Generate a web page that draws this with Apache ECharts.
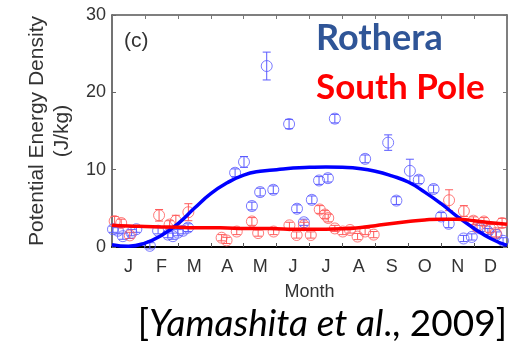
<!DOCTYPE html>
<html>
<head>
<meta charset="utf-8">
<script src="https://cdn.jsdelivr.net/npm/echarts@6/dist/echarts.min.js"></script>
<style>
  html, body { margin: 0; padding: 0; background: #fff; }
  #chart { width: 526px; height: 346px; }
</style>
</head>
<body>
<div id="chart"></div>
<script>
// Month labels (categories) and y tick range
const months = ['J', 'F', 'M', 'A', 'M', 'J', 'J', 'A', 'S', 'O', 'N', 'D'];
const yTicks = [0, 10, 20, 30];

// Seasonal fit curves, sampled every half month (month units, 0 = 1 Jan)
const fitMonth = [0, 0.5, 1, 1.5, 2, 2.5, 3, 3.5, 4, 4.5, 5, 5.5, 6, 6.5, 7, 7.5, 8, 8.5, 9, 9.5, 10, 10.5, 11, 11.5, 12];
const rotheraFit = [0.3, 0.1, 0.5, 1.5, 3.0, 5.0, 6.9, 8.3, 9.3, 9.8, 10.0, 10.2, 10.3, 10.35, 10.3, 10.15, 9.8, 9.2, 8.4, 7.1, 5.6, 3.9, 2.4, 1.1, 0.2];
const southPoleFit = [2.8, 2.7, 2.65, 2.6, 2.55, 2.5, 2.5, 2.45, 2.4, 2.4, 2.35, 2.3, 2.3, 2.3, 2.35, 2.5, 2.75, 3.05, 3.3, 3.5, 3.6, 3.6, 3.4, 3.15, 2.95];

// Rothera observations: time (months), potential energy density (J/kg), error
const rotheraMonth = [0.03, 0.18, 0.33, 0.59, 0.74, 1.15, 1.40, 1.70, 1.85, 2.00, 2.16, 2.31, 3.74, 4.01, 4.25, 4.50, 4.70, 4.90, 5.38, 5.62, 5.83, 6.07, 6.29, 6.56, 6.77, 7.69, 8.39, 8.64, 9.05, 9.32, 9.77, 10.00, 10.23, 10.68, 10.93, 11.18, 11.42, 11.68, 11.88];
const rotheraPED = [2.3, 2.1, 1.4, 1.85, 2.3, 0.15, 2.1, 1.6, 1.4, 1.85, 2.1, 2.5, 9.6, 11.0, 5.3, 7.1, 23.4, 7.4, 15.9, 4.95, 3.2, 6.1, 8.6, 8.9, 16.6, 11.4, 13.5, 6.0, 9.85, 8.7, 7.5, 3.95, 3.0, 1.1, 1.3, 2.4, 2.0, 1.55, 0.8];
const rotheraErr = [0.4, 0.4, 0.4, 0.4, 0.4, 0.4, 0.4, 0.4, 0.4, 0.4, 0.4, 0.5, 0.5, 0.7, 0.5, 0.5, 1.8, 0.5, 0.6, 0.5, 0.4, 0.5, 0.5, 0.5, 0.55, 0.5, 1.0, 0.5, 1.5, 0.5, 0.5, 0.5, 0.5, 0.4, 0.4, 0.4, 0.4, 0.4, 0.4];

// South Pole observations
const southPoleMonth = [0.08, 0.28, 0.54, 1.43, 1.75, 1.94, 2.32, 3.33, 3.48, 3.79, 4.25, 4.44, 4.91, 5.39, 5.61, 5.83, 6.04, 6.31, 6.47, 6.57, 6.77, 7.01, 7.23, 7.46, 7.69, 7.95, 10.24, 10.69, 10.98, 11.09, 11.30, 11.48, 11.66, 11.85];
const southPolePED = [3.35, 3.1, 1.5, 4.1, 2.9, 3.4, 4.5, 1.2, 0.85, 2.0, 3.3, 1.8, 2.0, 2.8, 1.55, 2.8, 1.55, 4.85, 4.2, 3.75, 2.4, 2.0, 2.2, 1.35, 2.0, 1.6, 6.05, 4.65, 3.4, 2.6, 3.3, 2.4, 1.8, 3.1];
const southPoleErr = [0.6, 0.5, 0.4, 0.75, 0.5, 0.7, 1.1, 0.4, 0.4, 0.4, 0.5, 0.4, 0.4, 0.4, 0.4, 0.4, 0.4, 0.5, 0.5, 0.5, 0.4, 0.4, 0.4, 0.4, 0.4, 0.4, 1.35, 0.7, 0.5, 0.5, 0.5, 0.5, 0.5, 0.6];

const BLUE_PT = '#5a5aff';
const RED_PT = '#ff5a5a';

function zip(xs, ys, es) {
  return xs.map((x, i) => es ? [x, ys[i], es[i]] : [x, ys[i]]);
}

// Vertical error bar with short caps, positioned through the axes
function errorBar(color) {
  return function (params, api) {
    const x = api.value(0), y = api.value(1), e = api.value(2);
    const top = api.coord([x, y + e]);
    const bot = api.coord([x, y - e]);
    const w = 4;
    const style = { stroke: color, lineWidth: 1, fill: null };
    return {
      type: 'group',
      children: [
        { type: 'line', shape: { x1: top[0], y1: top[1], x2: bot[0], y2: bot[1] }, style },
        { type: 'line', shape: { x1: top[0] - w, y1: top[1], x2: top[0] + w, y2: top[1] }, style },
        { type: 'line', shape: { x1: bot[0] - w, y1: bot[1], x2: bot[0] + w, y2: bot[1] }, style }
      ]
    };
  };
}

const chart = echarts.init(document.getElementById('chart'), null, { renderer: 'canvas' });

const fontFamily = '"Liberation Sans", Arial, sans-serif';

chart.setOption({
  animation: false,
  backgroundColor: '#fff',
  grid: { left: 112, right: 19, top: 15, bottom: 99, containLabel: false },
  xAxis: [
    {
      type: 'value', min: 0, max: 12, interval: 1, position: 'bottom',
      axisLine: { show: true, onZero: false, lineStyle: { color: '#000', width: 2 } },
      axisTick: { show: true, inside: true, length: 4, lineStyle: { color: '#555' } },
      axisLabel: { show: false }, splitLine: { show: false }
    },
    {
      type: 'category', data: months, boundaryGap: true, position: 'bottom',
      axisLine: { show: false }, axisTick: { show: false },
      axisLabel: { fontSize: 18, color: '#333', margin: 11, fontFamily },
      name: 'Month', nameLocation: 'middle', nameGap: 36,
      nameTextStyle: { fontSize: 18, color: '#333', fontFamily }
    },
    {
      type: 'value', min: 0, max: 12, interval: 1, position: 'top',
      axisLine: { show: true, onZero: false, lineStyle: { color: '#555', width: 1.5 } },
      axisTick: { show: true, inside: true, length: 4, lineStyle: { color: '#777' } },
      axisLabel: { show: false }, splitLine: { show: false }
    }
  ],
  yAxis: [
    {
      type: 'value', min: yTicks[0], max: yTicks[yTicks.length - 1], interval: 10, position: 'left',
      axisLine: { show: true, onZero: false, lineStyle: { color: '#444', width: 1.5 } },
      axisTick: { show: true, inside: true, length: 4, lineStyle: { color: '#666' } },
      axisLabel: { fontSize: 18, color: '#333', margin: 6, fontFamily },
      splitLine: { show: false },
      name: 'Potential Energy Density\n(J/kg)', nameLocation: 'middle', nameGap: 37, nameRotate: 90,
      nameTextStyle: { fontSize: 21, color: '#333', lineHeight: 25, fontFamily }
    },
    {
      type: 'value', min: 0, max: 30, interval: 10, position: 'right',
      axisLine: { show: true, onZero: false, lineStyle: { color: '#555', width: 1.5 } },
      axisTick: { show: true, inside: true, length: 4, lineStyle: { color: '#777' } },
      axisLabel: { show: false }, splitLine: { show: false }
    }
  ],
  graphic: [
    { type: 'text', left: 124, top: 31, style: { text: '(c)', fontSize: 21, fontFamily, fill: '#333' } },
    { type: 'text', left: 316, top: 20, style: { text: 'Rothera', fill: '#2f5597', fontSize: 36, fontWeight: 'bold', fontFamily: 'Lato, "Open Sans", sans-serif' } },
    { type: 'text', left: 316, top: 70, style: { text: 'South Pole', fill: '#ff0000', fontSize: 35, fontWeight: 'bold', fontFamily: 'Lato, "Open Sans", sans-serif' } },
    {
      type: 'text', right: 19, top: 306,
      style: {
        text: '{n|[}{i|Yamashita et al}{n|., 2009]}',
        rich: {
          n: { fontSize: 37, fontFamily: 'Lato, sans-serif', fill: '#000' },
          i: { fontSize: 37, fontFamily: 'Lato, sans-serif', fontStyle: 'italic', fill: '#000' }
        }
      }
    }
  ],
  series: [
    {
      type: 'custom', name: 'Rothera error', xAxisIndex: 0, yAxisIndex: 0,
      renderItem: errorBar(BLUE_PT), data: zip(rotheraMonth, rotheraPED, rotheraErr),
      encode: { x: 0, y: 1 }, z: 2, clip: false
    },
    {
      type: 'scatter', name: 'Rothera', xAxisIndex: 0, yAxisIndex: 0,
      data: zip(rotheraMonth, rotheraPED), symbol: 'circle', symbolSize: 11,
      itemStyle: { color: 'rgba(0,0,0,0)', borderColor: BLUE_PT, borderWidth: 1 }, z: 2
    },
    {
      type: 'custom', name: 'South Pole error', xAxisIndex: 0, yAxisIndex: 0,
      renderItem: errorBar(RED_PT), data: zip(southPoleMonth, southPolePED, southPoleErr),
      encode: { x: 0, y: 1 }, z: 2, clip: false
    },
    {
      type: 'scatter', name: 'South Pole', xAxisIndex: 0, yAxisIndex: 0,
      data: zip(southPoleMonth, southPolePED), symbol: 'circle', symbolSize: 11,
      itemStyle: { color: 'rgba(0,0,0,0)', borderColor: RED_PT, borderWidth: 1 }, z: 2
    },
    {
      type: 'line', name: 'Rothera fit', xAxisIndex: 0, yAxisIndex: 0,
      data: zip(fitMonth, rotheraFit), smooth: 0.5, showSymbol: false,
      lineStyle: { color: '#0000ff', width: 3.5 }, z: 3
    },
    {
      type: 'line', name: 'South Pole fit', xAxisIndex: 0, yAxisIndex: 0,
      data: zip(fitMonth, southPoleFit), smooth: 0.5, showSymbol: false,
      lineStyle: { color: '#ff0000', width: 3.5 }, z: 4
    }
  ]
});
</script>
</body>
</html>
